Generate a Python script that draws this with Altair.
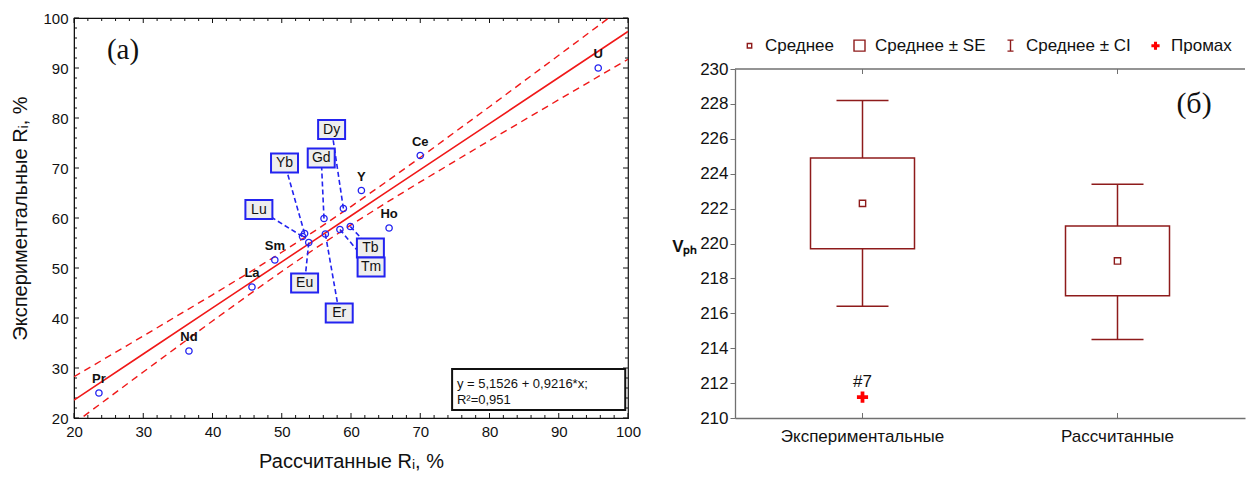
import altair as alt
import pandas as pd

# ---------------- Panel (a): experimental vs calculated R_i ----------------
elements = ["Pr", "Nd", "La", "Sm", "Lu", "Yb", "Eu", "Gd", "Er", "Dy", "Tm", "Tb", "Y", "Ho", "Ce", "U"]
calc_r = [23.6, 36.6, 45.7, 49.0, 53.0, 53.3, 53.9, 56.1, 56.3, 58.9, 58.4, 59.9, 61.5, 65.5, 70.0, 95.7]
exp_r = [25.0, 33.4, 46.2, 51.6, 56.3, 56.9, 55.1, 59.9, 56.8, 61.9, 57.7, 58.3, 65.5, 58.0, 72.5, 90.0]

boxed_elements = ["Dy", "Gd", "Yb", "Lu", "Eu", "Er", "Tb", "Tm"]
box_label_x = [57.2, 55.7, 50.4, 46.7, 53.3, 58.3, 62.8, 62.9]
box_label_y = [77.7, 72.0, 71.0, 61.7, 47.0, 41.0, 54.0, 50.2]

# regression line and its confidence band
band_x = [20, 30, 40, 45, 50, 55, 60, 65, 70, 80, 90, 100]
fit_y = [23.58, 32.80, 42.02, 46.62, 51.23, 55.84, 60.45, 65.06, 69.66, 78.88, 88.10, 97.31]
upper_y = [28.26, 36.40, 44.64, 48.84, 53.15, 57.62, 62.29, 67.14, 72.10, 82.26, 92.54, 102.87]
lower_y = [18.90, 29.20, 39.40, 44.40, 49.31, 54.06, 58.61, 62.98, 67.22, 75.50, 83.66, 91.75]

eq_lines = ["y = 5,1526 + 0,9216*x;", "R²=0,951"]

# ---------------- Panel (б): mean / SE / CI ----------------
groups = ["Экспериментальные", "Рассчитанные"]
mean_v = [222.3, 219.0]
se_low = [219.7, 217.0]
se_high = [224.9, 221.0]
ci_low = [216.4, 214.5]
ci_high = [228.2, 223.4]
outlier_group = ["Экспериментальные"]
outlier_v = [211.2]
outlier_label = ["#7"]
legend_items = ["Среднее", "Среднее ± SE", "Среднее ± CI", "Промах"]

# ---------------- styles ----------------
SANS = "Liberation Sans"
SERIF = "Liberation Serif"
BLUE = "#2323F0"
RED = "#F01818"
DARK_RED = "#8E1B1B"
GRAY = "#707070"
INK = "#111111"
W1, H1 = 554, 400
W2, H2 = 510, 400

XS = alt.Scale(domain=[20, 100], nice=False, zero=False)
YS = alt.Scale(domain=[20, 100], nice=False, zero=False)
XA = alt.Axis(values=list(range(20, 101, 10)), title="Рассчитанные Rᵢ, %", ticks=False,
              labelFontSize=15, labelPadding=6, titleFontSize=20, titlePadding=12, labelFlush=False,
              titleFontWeight="normal", domainColor=INK, labelFont=SANS, titleFont=SANS,
              labelColor=INK, titleColor=INK, grid=False)
YA = alt.Axis(values=list(range(20, 101, 10)), title="Экспериментальные Rᵢ, %", ticks=False,
              labelFontSize=15, labelPadding=6, titleFontSize=20, titlePadding=12, labelFlush=False,
              titleFontWeight="normal", domainColor=INK, labelFont=SANS, titleFont=SANS,
              labelColor=INK, titleColor=INK, grid=False)


def ex(f="x"):
    return alt.X(f"{f}:Q", scale=XS, axis=XA)


def ey(f="y"):
    return alt.Y(f"{f}:Q", scale=YS, axis=YA)


pts_df = pd.DataFrame({"x": calc_r, "y": exp_r, "el": elements})
plain_df = pts_df[~pts_df["el"].isin(boxed_elements)]
lookup = dict(zip(elements, zip(calc_r, exp_r)))
lead_df = pd.DataFrame({
    "x": [lookup[e][0] for e in boxed_elements],
    "y": [lookup[e][1] for e in boxed_elements],
    "x2": box_label_x, "y2": box_label_y,
})
box_df = pd.DataFrame({"x": box_label_x, "y": box_label_y, "el": boxed_elements})
fit_df = pd.DataFrame({"x": band_x, "y": fit_y})
up_df = pd.DataFrame({"x": band_x, "y": upper_y})
lo_df = pd.DataFrame({"x": band_x, "y": lower_y})

major = list(range(20, 101, 10))
minor = [v for v in range(20, 101, 2) if v % 10]


def tick_layers(vals, L):
    dx = pd.DataFrame({"x": vals})
    dy = pd.DataFrame({"y": vals})
    r = dict(color=INK, strokeWidth=1)
    return [
        alt.Chart(dx).mark_rule(**r).encode(x=ex(), y=alt.value(H1), y2=alt.value(H1 - L)),
        alt.Chart(dx).mark_rule(**r).encode(x=ex(), y=alt.value(0), y2=alt.value(L)),
        alt.Chart(dy).mark_rule(**r).encode(y=ey(), x=alt.value(0), x2=alt.value(L)),
        alt.Chart(dy).mark_rule(**r).encode(y=ey(), x=alt.value(W1), x2=alt.value(W1 - L)),
    ]


left_layers = tick_layers(major, 5) + tick_layers(minor, 3) + [
    alt.Chart(up_df).mark_line(color=RED, strokeWidth=1.4, strokeDash=[7, 5], clip=True).encode(x=ex(), y=ey()),
    alt.Chart(lo_df).mark_line(color=RED, strokeWidth=1.4, strokeDash=[7, 5], clip=True).encode(x=ex(), y=ey()),
    alt.Chart(fit_df).mark_line(color=RED, strokeWidth=1.6, clip=True).encode(x=ex(), y=ey()),
    alt.Chart(lead_df).mark_rule(color=BLUE, strokeWidth=1.6, strokeDash=[5, 3]).encode(
        x=ex(), y=ey(), x2=alt.X2("x2"), y2=alt.Y2("y2")),
    alt.Chart(box_df).mark_point(shape="M-1.42,-1H1.42V1H-1.42Z", size=361, filled=True,
                                 fill="#EEEEEE", stroke=BLUE, strokeWidth=2, opacity=1).encode(x=ex(), y=ey()),
    alt.Chart(box_df).mark_text(font=SANS, fontSize=14, color=INK, baseline="middle").encode(
        x=ex(), y=ey(), text="el:N"),
    alt.Chart(pts_df).mark_point(shape="circle", size=40, filled=False, color=BLUE,
                                 strokeWidth=1.3, opacity=1).encode(x=ex(), y=ey()),
    alt.Chart(plain_df).mark_text(font=SANS, fontSize=13, fontWeight="bold", color=INK, dy=-14).encode(
        x=ex(), y=ey(), text="el:N"),
    alt.Chart(pd.DataFrame({"x": [74.6], "x2": [99.6], "y": [21.6], "y2": [29.8]})).mark_rect(
        fill="white", stroke=INK, strokeWidth=2).encode(x=ex(), x2=alt.X2("x2"), y=ey(), y2=alt.Y2("y2")),
    alt.Chart(pd.DataFrame({"x": [75.3, 75.3], "y": [26.8, 23.6], "t": eq_lines})).mark_text(
        font=SANS, fontSize=13, align="left", baseline="middle", color=INK).encode(x=ex(), y=ey(), text="t:N"),
    alt.Chart(pd.DataFrame({"t": ["(a)"]})).mark_text(font=SERIF, fontSize=29, color=INK).encode(
        x=alt.value(49), y=alt.value(32), text="t:N"),
]

left = alt.layer(*left_layers).properties(
    width=W1, height=H1, view=alt.ViewBackground(stroke=INK, strokeWidth=1.2))

# ---------------- right panel ----------------
stat_df = pd.DataFrame({"g": groups, "se_lo": se_low, "se_hi": se_high, "ci_lo": ci_low, "ci_hi": ci_high})
pt_df = pd.DataFrame({"g": groups + outlier_group, "v": mean_v + outlier_v,
                      "kind": ["Среднее"] * len(groups) + ["Промах"] * len(outlier_v)})
out_df = pd.DataFrame({"g": outlier_group, "v": outlier_v, "t": outlier_label})

RX = alt.X("g:N", sort=groups,
           scale=alt.Scale(type="band", domain=groups, paddingInner=0, paddingOuter=0),
           axis=alt.Axis(title=None, labelAngle=0, ticks=False, labelFontSize=17, labelPadding=10,
                         labelFont=SANS, labelColor=INK, domainColor=GRAY, domainWidth=1.3))
RYS = alt.Scale(domain=[210, 230], nice=False, zero=False, range=[400, 51])
RYA = alt.Axis(values=list(range(210, 231, 2)), title="Vₚₕ", titleAngle=0, titleFontSize=17,
               titleFontWeight="bold", titleFont=SANS, titleX=-38, titleY=228, titleAlign="right",
               titleBaseline="middle", labelFontSize=17, labelFont=SANS, labelPadding=2, tickSize=5,
               tickColor=GRAY, domainColor=GRAY, domainWidth=1.3, grid=False, labelFlush=False,
               labelColor=INK, titleColor=INK)


def ry(f):
    return alt.Y(f"{f}:Q", scale=RYS, axis=RYA)


mean_path = "M-0.4,-0.4H0.4V0.4H-0.4Z"
se_path = "M-1,-1H1V1H-1Z"
ci_path = "M-0.55,-1H0.55M0,-1V1M-0.55,1H0.55"
cross_path = "M-0.15,-0.62H0.15V-0.15H0.62V0.15H0.15V0.62H-0.15V0.15H-0.62V-0.15H-0.15Z"

leg = alt.Legend(title=None, orient="none", legendX=6, legendY=19, direction="horizontal",
                 labelFontSize=17, labelFont=SANS, labelColor=INK, symbolSize=121,
                 symbolStrokeWidth=1.4, columnPadding=16, labelOffset=7, padding=0)

right_layers = [
    alt.Chart(stat_df).mark_rule(color=DARK_RED, strokeWidth=1.5).encode(x=RX, y=ry("se_hi"), y2=alt.Y2("ci_hi")),
    alt.Chart(stat_df).mark_rule(color=DARK_RED, strokeWidth=1.5).encode(x=RX, y=ry("ci_lo"), y2=alt.Y2("se_lo")),
    alt.Chart(stat_df).mark_tick(orient="horizontal", size=52, thickness=1.5, color=DARK_RED, opacity=1).encode(
        x=RX, y=ry("ci_hi")),
    alt.Chart(stat_df).mark_tick(orient="horizontal", size=52, thickness=1.5, color=DARK_RED, opacity=1).encode(
        x=RX, y=ry("ci_lo")),
    alt.Chart(stat_df).mark_bar(size=104, fill="white", stroke=DARK_RED, strokeWidth=1.5).encode(
        x=RX, y=ry("se_lo"), y2=alt.Y2("se_hi")),
    alt.Chart(pt_df).mark_point(size=248, strokeWidth=1.4, opacity=1).encode(
        x=RX, y=ry("v"),
        shape=alt.Shape("kind:N", scale=alt.Scale(domain=legend_items,
                                                  range=[mean_path, se_path, ci_path, cross_path]), legend=leg),
        stroke=alt.Stroke("kind:N", scale=alt.Scale(domain=legend_items,
                                                    range=[DARK_RED, DARK_RED, DARK_RED, "#FF0000"]), legend=leg),
        fill=alt.Fill("kind:N", scale=alt.Scale(domain=legend_items,
                                                range=["transparent", "transparent", "transparent", "#FF0000"]),
                      legend=leg),
    ),
    alt.Chart(out_df).mark_text(font=SANS, fontSize=17, color=INK, dy=-15).encode(x=RX, y=ry("v"), text="t:N"),
    alt.Chart(stat_df).mark_rule(color=GRAY, strokeWidth=1).encode(x=RX, y=alt.value(400), y2=alt.value(395)),
    alt.Chart(stat_df).mark_rule(color=GRAY, strokeWidth=1).encode(x=RX, y=alt.value(51), y2=alt.value(56)),
    alt.Chart(pd.DataFrame({"a": [0]})).mark_rule(color=GRAY, strokeWidth=1.3).encode(
        x=alt.value(0), x2=alt.value(W2), y=alt.value(51)),
    alt.Chart(pd.DataFrame({"t": ["(б)"]})).mark_text(font=SERIF, fontSize=30, color=INK).encode(
        x=alt.value(459), y=alt.value(86), text="t:N"),
]

right = alt.layer(*right_layers).properties(
    width=W2, height=H2, view=alt.ViewBackground(stroke="transparent"))

chart = alt.hconcat(left, right, spacing=29).resolve_scale(
    shape="independent", stroke="independent", fill="independent"
).resolve_legend(
    shape="independent", stroke="independent", fill="independent"
).properties(
    padding={"left": 10, "top": 10, "right": 0, "bottom": 0}
).configure(font=SANS).configure_axis(grid=False)

chart.save("out.html", embed_options={"renderer": "svg", "actions": False})
